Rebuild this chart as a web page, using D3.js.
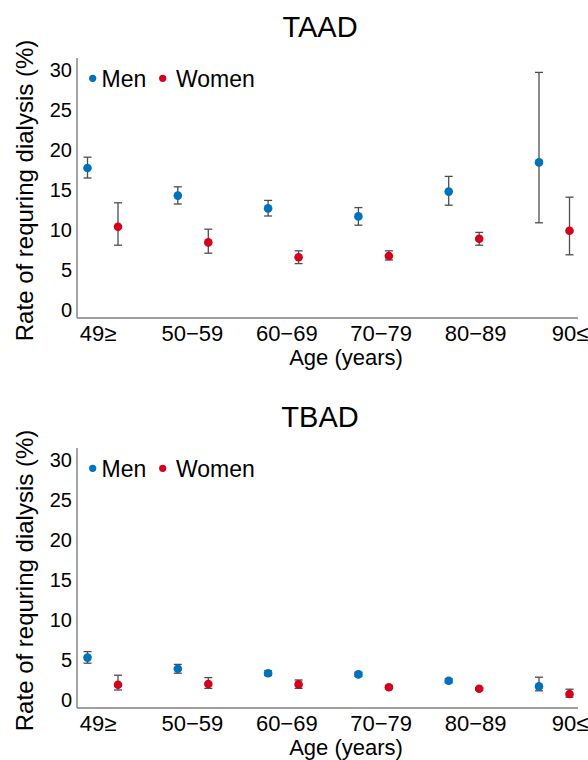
<html>
<head>
<script src="https://d3js.org/d3.v7.min.js"></script>
<style>
  body { margin: 0; background: #fff; }
  text { font-family: "Liberation Sans", Arial, sans-serif; fill: #000; }
</style>
</head>
<body>
<script>
  // age groups and axis ticks
  let ageGroups = ["49≥", "50−59", "60−69", "70−79", "80−89", "90≤"];
  let yTicks = [0, 5, 10, 15, 20, 25, 30];
  let seriesNames = ["Men", "Women"];

  // TAAD: rate (%) with lower / upper error bounds
  let taadMen     = [17.75, 14.3, 12.7, 11.7, 14.8, 18.45];
  let taadMenLo   = [16.5, 13.25, 11.75, 10.6, 13.1, 10.9];
  let taadMenHi   = [19.1, 15.4, 13.7, 12.8, 16.7, 29.7];
  let taadWomen   = [10.4, 8.45, 6.6, 6.75, 8.9, 9.9];
  let taadWomenLo = [8.1, 7.1, 5.8, 6.25, 8.1, 6.9];
  let taadWomenHi = [13.4, 10.1, 7.4, 7.4, 9.7, 14.1];

  // TBAD
  let tbadMen     = [5.3, 3.9, 3.35, 3.2, 2.4, 1.7];
  let tbadMenLo   = [4.6, 3.35, 3.05, 2.95, 2.15, 1.15];
  let tbadMenHi   = [6.05, 4.45, 3.65, 3.45, 2.65, 2.85];
  let tbadWomen   = [1.9, 2.0, 1.95, 1.6, 1.4, 0.75];
  let tbadWomenLo = [1.25, 1.45, 1.45, 1.4, 1.25, 0.35];
  let tbadWomenHi = [3.1, 2.8, 2.5, 1.8, 1.55, 1.35];

  let colors = {Men: "#0071bc", Women: "#d5001c"};

  let svg = d3.select("body").append("svg")
      .attr("width", 588)
      .attr("height", 760);

  let yScale = d3.scaleLinear().domain([-1, 31.5]).range([318, 58]);
  let xScale = d3.scalePoint().domain(ageGroups).range([87.5, 539]);
  let labelScale = d3.scalePoint().domain(ageGroups).range([98, 570]);
  let womenShift = 30.5;

  function drawPanel(offsetY, title, men, menLo, menHi, women, womenLo, womenHi){
    let g = svg.append("g").attr("transform", "translate(0," + offsetY + ")");

    // title
    g.append("text")
      .attr("x", 320).attr("y", 37)
      .attr("text-anchor", "middle")
      .style("font-size", "29px")
      .text(title);

    // axis lines
    g.append("line")
      .attr("x1", 77).attr("x2", 77)
      .attr("y1", yScale(31.5)).attr("y2", yScale(-1))
      .attr("stroke", "#7f7f7f").attr("stroke-width", 1.4);
    g.append("line")
      .attr("x1", 77).attr("x2", 578)
      .attr("y1", yScale(-1)).attr("y2", yScale(-1))
      .attr("stroke", "#7f7f7f").attr("stroke-width", 1.4);

    // y tick labels
    g.selectAll(".ytick").data(yTicks).enter().append("text")
      .attr("x", 72)
      .attr("y", d => yScale(d))
      .attr("dy", "0.36em")
      .attr("text-anchor", "end")
      .style("font-size", "20px")
      .text(d => d);

    // x tick labels
    g.selectAll(".xtick").data(ageGroups).enter().append("text")
      .attr("x", d => labelScale(d))
      .attr("y", 340.5)
      .attr("text-anchor", "middle")
      .style("font-size", "22px")
      .text(d => d);

    // axis titles
    g.append("text")
      .attr("x", 346).attr("y", 365)
      .attr("text-anchor", "middle")
      .style("font-size", "22px")
      .text("Age (years)");
    g.append("text")
      .attr("transform", "translate(33,190.5) rotate(-90)")
      .attr("text-anchor", "middle")
      .style("font-size", "24px")
      .text("Rate of requring dialysis (%)");

    // legend
    g.append("circle").attr("cx", 92.7).attr("cy", 78.3).attr("r", 3.6).attr("fill", colors.Men);
    g.append("text").attr("x", 101.5).attr("y", 86.5).style("font-size", "23px").text(seriesNames[0]);
    g.append("circle").attr("cx", 162.7).attr("cy", 78.3).attr("r", 3.6).attr("fill", colors.Women);
    g.append("text").attr("x", 176).attr("y", 86.5).style("font-size", "23px").text(seriesNames[1]);

    let series = [
      {name: "Men", shift: 0, val: men, lo: menLo, hi: menHi},
      {name: "Women", shift: womenShift, val: women, lo: womenLo, hi: womenHi}
    ];

    series.forEach(s => {
      let pts = ageGroups.map((a, i) => ({x: xScale(a) + s.shift, v: s.val[i], lo: s.lo[i], hi: s.hi[i]}));

      //error bars
      let eb = g.append("g").attr("stroke", "#4d4d4d").attr("stroke-width", 1.3);
      eb.selectAll(".v").data(pts).enter().append("line")
        .attr("x1", d => d.x).attr("x2", d => d.x)
        .attr("y1", d => yScale(d.lo)).attr("y2", d => yScale(d.hi));
      eb.selectAll(".t").data(pts).enter().append("line")
        .attr("x1", d => d.x - 4).attr("x2", d => d.x + 4)
        .attr("y1", d => yScale(d.hi)).attr("y2", d => yScale(d.hi));
      eb.selectAll(".b").data(pts).enter().append("line")
        .attr("x1", d => d.x - 4).attr("x2", d => d.x + 4)
        .attr("y1", d => yScale(d.lo)).attr("y2", d => yScale(d.lo));

      //points
      g.selectAll(".p" + s.name).data(pts).enter().append("circle")
        .attr("cx", d => d.x)
        .attr("cy", d => yScale(d.v))
        .attr("r", 4.3)
        .attr("fill", colors[s.name]);
    });
  }

  drawPanel(0, "TAAD", taadMen, taadMenLo, taadMenHi, taadWomen, taadWomenLo, taadWomenHi);
  drawPanel(390, "TBAD", tbadMen, tbadMenLo, tbadMenHi, tbadWomen, tbadWomenLo, tbadWomenHi);
</script>
</body>
</html>
